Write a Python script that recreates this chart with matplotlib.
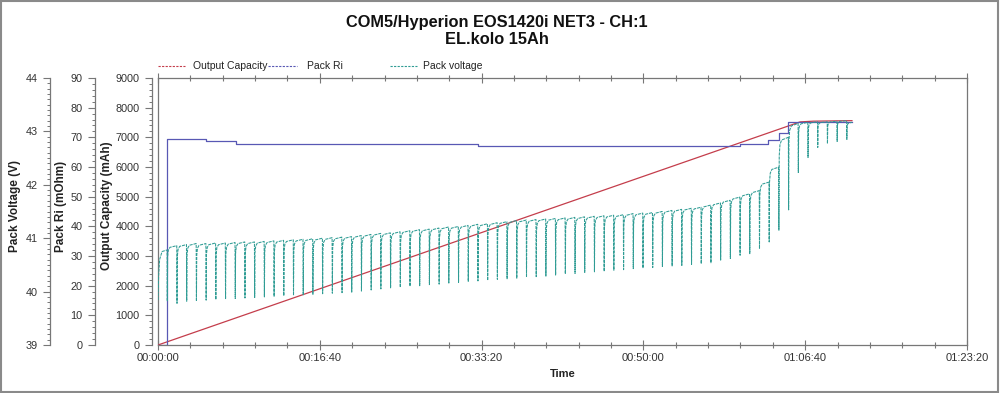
import matplotlib
matplotlib.use("Agg")
import matplotlib.pyplot as plt
from matplotlib.ticker import MultipleLocator, FuncFormatter
from matplotlib.lines import Line2D
from matplotlib.patches import Rectangle

plt.rcParams['font.family'] = ['Liberation Sans', 'DejaVu Sans']

# ---------------- data ----------------
TITLE_1 = "COM5/Hyperion EOS1420i NET3 - CH:1"
TITLE_2 = "EL.kolo 15Ah"
SERIES_NAMES = ["Output Capacity", "Pack Ri", "Pack voltage"]
X_LABEL = "Time"
Y_LABELS = ["Pack Voltage (V)", "Pack Ri (mOhm)", "Output Capacity (mAh)"]

# Output capacity (mAh) vs time (s)
CAP_T = [0, 3900, 3968, 4050, 4289]
CAP_MAH = [0, 7391, 7520, 7545, 7562]

# Pack Ri (mOhm) steps vs time (s)
RI_T = [0, 56, 297, 482, 1978, 3597, 3770, 3838, 3894, 4289]
RI_MOHM = [0, 69.6, 68.6, 67.8, 67.0, 67.8, 69.1, 71.6, 75.3, 75.3]

# Pack voltage (V): start ramp, then measurement dips
V_START_T = [0, 4, 10, 25, 45]
V_START = [39.84, 40.30, 40.60, 40.75, 40.77]
DIP_T = [56, 116, 176, 236, 296, 356, 416, 476, 536, 596,
         656, 716, 776, 836, 896, 956, 1016, 1076, 1136, 1196,
         1256, 1316, 1376, 1436, 1496, 1556, 1616, 1676, 1736, 1796,
         1856, 1916, 1976, 2036, 2096, 2156, 2216, 2276, 2336, 2396,
         2456, 2516, 2576, 2636, 2696, 2756, 2816, 2876, 2936, 2996,
         3056, 3116, 3176, 3236, 3296, 3356, 3416, 3476, 3536, 3596,
         3656, 3716, 3776, 3836, 3896, 3956, 4016, 4076, 4136, 4196, 4256]
V_TOP = [40.78, 40.86, 40.88, 40.90, 40.90, 40.91, 40.91, 40.92, 40.93, 40.93,
         40.94, 40.95, 40.96, 40.97, 40.98, 40.99, 41.00, 41.01, 41.02, 41.03,
         41.05, 41.07, 41.09, 41.10, 41.12, 41.14, 41.16, 41.17, 41.19, 41.21,
         41.22, 41.24, 41.26, 41.27, 41.29, 41.31, 41.33, 41.34, 41.35, 41.36,
         41.37, 41.38, 41.39, 41.40, 41.41, 41.42, 41.43, 41.44, 41.46, 41.47,
         41.48, 41.50, 41.52, 41.54, 41.56, 41.58, 41.62, 41.66, 41.71, 41.77,
         41.83, 41.89, 42.05, 42.33, 42.89, 43.15, 43.17, 43.18, 43.18, 43.19, 43.20]
V_BOTTOM = [39.82, 39.78, 39.82, 39.82, 39.84, 39.85, 39.86, 39.87, 39.88, 39.89,
            39.90, 39.91, 39.92, 39.93, 39.94, 39.95, 39.96, 39.97, 39.98, 39.99,
            40.01, 40.03, 40.05, 40.07, 40.08, 40.10, 40.11, 40.13, 40.14, 40.16,
            40.17, 40.19, 40.20, 40.21, 40.23, 40.24, 40.25, 40.27, 40.28, 40.29,
            40.31, 40.33, 40.34, 40.36, 40.37, 40.38, 40.40, 40.41, 40.43, 40.44,
            40.45, 40.47, 40.48, 40.49, 40.51, 40.52, 40.54, 40.59, 40.62, 40.68,
            40.71, 40.80, 40.93, 41.15, 41.53, 42.23, 42.51, 42.70, 42.77, 42.81, 42.85]
V_END_T = 4289
V_END = 43.17

# ---------------- style ----------------
RED = '#c43d4b'
BLUE = '#5858b4'
TEAL = '#2f9c94'
FRAME = '#777777'
TXT = '#333333'
REC_DT = [1.5, 3.5, 8, 18]          # shape of a dip recovery (s)
REC_FRAC = [0.0, 0.80, 0.92, 0.97]

vt = list(V_START_T)
vv = list(V_START)
for k, td in enumerate(DIP_T):
    nxt = V_TOP[k + 1] if k + 1 < len(V_TOP) else V_END
    vt.append(td)
    vv.append(V_TOP[k])
    for dt, f in zip(REC_DT, REC_FRAC):
        vt.append(td + dt)
        vv.append(V_BOTTOM[k] + f * (nxt - V_BOTTOM[k]))
vt.append(V_END_T)
vv.append(V_END)

FW, FH = 1000, 393
X0, X1, YT, YB = 158, 967, 78, 345
fig = plt.figure(figsize=(FW / 100, FH / 100), dpi=100)
ax = fig.add_axes([X0 / FW, (FH - YB) / FH, (X1 - X0) / FW, (YB - YT) / FH])
ax.set_xlim(0, 5000)
ax.set_ylim(0, 1)
ax.set_yticks([])
for s in ax.spines.values():
    s.set_color(FRAME)
    s.set_linewidth(0.9)


def hms(x, pos):
    x = int(round(x))
    return "%02d:%02d:%02d" % (x // 3600, (x % 3600) // 60, x % 60)


ax.xaxis.set_major_locator(MultipleLocator(1000))
ax.xaxis.set_minor_locator(MultipleLocator(200))
ax.xaxis.set_major_formatter(FuncFormatter(hms))
ax.tick_params(axis='x', which='major', direction='inout', length=7, width=0.8,
               color=FRAME, top=True, labelsize=8, labelcolor=TXT, pad=2)
ax.tick_params(axis='x', which='minor', direction='inout', length=4, width=0.8,
               color=FRAME, top=True)
ax.set_xlabel(X_LABEL, fontweight='bold', fontsize=8, color='#222222')
ax.xaxis.set_label_coords(0.5, -(369 - YB) / (YB - YT))


def make_axis(spine_px, label_px, lo, hi, major, minor, label):
    a = ax.twinx()
    a.set_ylim(lo, hi)
    for s in ['right', 'top', 'bottom']:
        a.spines[s].set_visible(False)
    a.spines['left'].set_position(('axes', (spine_px - X0) / (X1 - X0)))
    a.spines['left'].set_color(FRAME)
    a.spines['left'].set_linewidth(0.9)
    a.yaxis.tick_left()
    a.yaxis.set_label_position('left')
    a.yaxis.set_major_locator(MultipleLocator(major))
    a.yaxis.set_minor_locator(MultipleLocator(minor))
    a.tick_params(axis='y', which='major', direction='out', length=5, width=0.8,
                  color=FRAME, labelsize=7.8, labelcolor=TXT, pad=4)
    a.tick_params(axis='y', which='minor', direction='out', length=2.5, width=0.7,
                  color=FRAME)
    a.set_ylabel(label, fontweight='bold', fontsize=8.5, color='#222222')
    a.yaxis.set_label_coords((label_px - X0) / (X1 - X0), 0.52)
    return a


ax_c = make_axis(152, 113, 0, 9000, 1000, 200, Y_LABELS[2])
ax_r = make_axis(95, 67, 0, 90, 10, 2, Y_LABELS[1])
ax_v = make_axis(50, 21, 39, 44, 1, 0.1, Y_LABELS[0])

ax_c.plot(CAP_T, CAP_MAH, color=RED, lw=0.9)
ax_r.plot(RI_T, RI_MOHM, color=BLUE, lw=0.9, drawstyle='steps-post')
ax_v.plot(vt, vv, color=TEAL, lw=0.75, ls=(0, (3, 0.9)))
ax_v.set_xlim(0, 5000)

# title
fig.text(0.497, 1 - 22 / FH, TITLE_1, ha='center', va='center', fontweight='bold',
         fontsize=11.8, color='#111111')
fig.text(0.497, 1 - 40 / FH, TITLE_2, ha='center', va='center', fontweight='bold',
         fontsize=11.8, color='#111111')

# legend
LEG_Y = 1 - 66 / FH
for (x_s, x_e, x_t), name, col in zip([(158, 185, 193), (268, 297, 307), (390, 417, 423)],
                                      SERIES_NAMES, [RED, BLUE, TEAL]):
    fig.add_artist(Line2D([x_s / FW, x_e / FW], [LEG_Y, LEG_Y], color=col, lw=0.8,
                          ls=(0, (2, 1.2)), transform=fig.transFigure))
    fig.text(x_t / FW, LEG_Y, name, ha='left', va='center', fontsize=7.5, color='#222222')

fig.add_artist(Rectangle((0.001, 0.002), 0.997, 0.995, transform=fig.transFigure,
                         fill=False, edgecolor='#8a8a8a', lw=1.5))

fig.savefig('out.png', dpi=100)
